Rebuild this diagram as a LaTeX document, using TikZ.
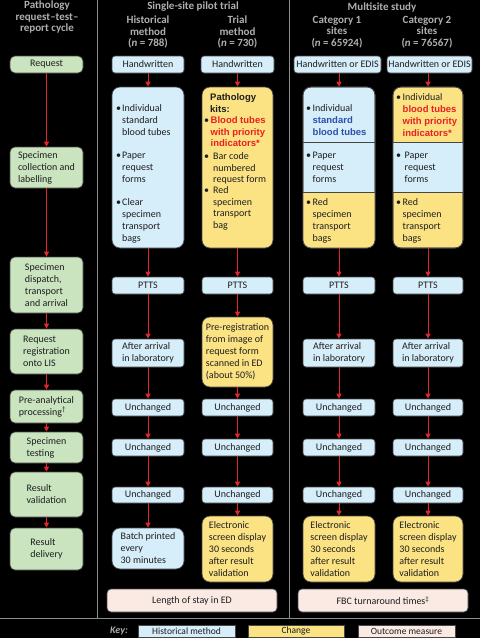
\documentclass[tikz,border=0pt]{standalone}
\usepackage{fontspec}
\setmainfont{Carlito}
\newfontfamily\arb{Liberation Sans}
\usetikzlibrary{arrows.meta}
\definecolor{bfill}{RGB}{214,237,250}
\definecolor{gfill}{RGB}{201,228,191}
\definecolor{yfill}{RGB}{251,227,132}
\definecolor{pfill}{RGB}{251,234,228}
\definecolor{bord}{RGB}{70,70,70}
\definecolor{txt}{RGB}{30,30,30}
\definecolor{arrred}{RGB}{227,38,43}
\definecolor{hdrc}{RGB}{175,175,175}
\definecolor{divc}{RGB}{140,140,140}
\definecolor{tblue}{RGB}{45,80,170}
\definecolor{tred}{RGB}{235,30,35}
\newcommand\mybox[7]{\node[#1, minimum width={#5-#3}, minimum height={#6-#4}] (#2) at ({(#3+#5)/2},{(#4+#6)/2}) {#7};}
\newcommand\hb[1]{{\arb\bfseries\fontsize{9.5}{12}\selectfont #1}}
\newcommand\bu[1][6pt]{\makebox[#1][l]{\textbullet}}
\newcommand\bl[1]{\begin{tabular}[t]{@{}l@{}l@{}}#1\end{tabular}}
\newcommand\tl[1]{\begin{tabular}[t]{@{}l@{}}#1\end{tabular}}
\tikzset{
 base/.style={draw=bord, line width=0.7pt, inner sep=0pt, font=\fontsize{10}{12}\selectfont, text=txt, align=left},
 sbox/.style={base, fill=bfill, rounded corners=3pt},
 gbox/.style={base, fill=gfill, rounded corners=5pt},
 ybox/.style={base, fill=yfill, rounded corners=8pt},
 bbig/.style={base, fill=bfill, rounded corners=8pt},
 obox/.style={base, fill=pfill, rounded corners=4pt},
 kbox/.style={base, rounded corners=0pt, font=\fontsize{9.5}{12}\selectfont},
 arr/.style={draw=arrred, line width=0.9pt, -{Triangle[length=5pt,width=5pt]}},
 hdr/.style={text=hdrc, font=\fontsize{11}{11.5}\selectfont\bfseries, align=center, inner sep=0pt},
 tx/.style={inner sep=0pt, anchor=base west, text=txt, font=\fontsize{10}{12}\selectfont},
 txt2/.style={tx, font=\fontsize{10}{11.7}\selectfont},
 divline/.style={draw=divc, line width=0.8pt},
}
\begin{document}
\begin{tikzpicture}[x=1pt,y=-1pt]
\useasboundingbox (0,0) rectangle (480,638);
\fill[black] (0,0) rectangle (480,638);
% dividers
\draw[divline] (97,0) -- (97,618);
\draw[divline] (289,0) -- (289,618);
\draw[divline] (0,618) -- (480,618);
% headers
\node[hdr] (h0) at (47,17.5) {Pathology\\request--test--\\report cycle};
\node[hdr] (h1) at (193,7) {Single-site pilot trial};
\node[hdr] (h2) at (148,32) {Historical\\method\\(\textit{n} = 788)};
\node[hdr] (h3) at (237.5,32) {Trial\\method\\(\textit{n} = 730)};
\node[hdr] (h4) at (382,7) {Multisite study};
\node[hdr] (h5) at (337,32) {Category 1\\sites\\(\textit{n} = 65924)};
\node[hdr] (h6) at (427,32) {Category 2\\sites\\(\textit{n} = 76567)};
% left column
\mybox{gbox}{req}{10}{56}{83}{73}{Request}
\mybox{gbox}{coll}{10}{147}{83}{188}{Specimen\\collection and\\labelling}
\mybox{gbox}{disp}{10}{257}{83}{313}{Specimen\\dispatch,\\transport\\and arrival}
\mybox{gbox}{reg}{10}{329}{83}{374}{Request\\registration\\onto LIS}
\mybox{gbox}{pre}{10}{390}{83}{423}{Pre-analytical\\processing\textsuperscript{\dag}}
\mybox{gbox}{test}{10}{432}{83}{463}{Specimen\\testing}
\mybox{gbox}{val}{10}{472}{83}{517}{Result\\validation}
\mybox{gbox}{del}{10}{528}{83}{570}{Result\\delivery}
% historical column
\mybox{sbox}{hw1}{112}{56}{184}{73}{Handwritten}
\mybox{bbig}{big1}{112}{87}{184}{248}{}
\node[tx] (t1a) at (116,111.3) {\bl{\bu & Individual\\ & standard\\ & blood tubes}};
\node[tx] (t1b) at (116,158.3) {\bl{\bu & Paper\\ & request\\ & forms}};
\node[tx] (t1c) at (116,205.3) {\bl{\bu & Clear\\ & specimen\\ & transport\\ & bags}};
\mybox{sbox}{ptts1}{112}{277}{184}{294}{PTTS}
\mybox{sbox}{arr1}{112}{339}{184}{367}{After arrival\\in laboratory}
\mybox{sbox}{un1a}{112}{399}{184}{416}{Unchanged}
\mybox{sbox}{un1b}{112}{439}{184}{456}{Unchanged}
\mybox{sbox}{un1c}{112}{487}{184}{503}{Unchanged}
\mybox{bbig}{batch}{112}{528}{184}{569}{Batch printed\\every\\30 minutes}
\mybox{obox}{los}{107}{589}{277}{612}{Length of stay in ED}
% trial column
\mybox{sbox}{hw2}{201}{56}{274}{73}{Handwritten}
\mybox{ybox}{big2}{202}{87}{273}{248}{}
\node[txt2] (t2h) at (210,100.3) {\tl{\hb{Pathology}\\ \hb{kits:}}};
\node[txt2] (t2a) at (204,123.3) {\bl{\bu[6.5pt] & \hb{\color{tred}Blood tubes}\\ & \hb{\color{tred}with priority}\\ & \hb{\color{tred}indicators*}}};
\node[txt2] (t2b) at (204,159.3) {\bl{\bu[9pt] & Bar code\\ & numbered\\ & request form}};
\node[txt2] (t2c) at (204,193.3) {\bl{\bu[9pt] & Red\\ & specimen\\ & transport\\ & bag}};
\mybox{sbox}{ptts2}{202}{277}{273}{294}{PTTS}
\mybox{ybox}{prereg}{202}{317}{273}{387}{\fontsize{10}{11.8}\selectfont Pre-registration\\from image of\\request form\\scanned in ED\\(about 50\%)}
\mybox{sbox}{un2a}{202}{399}{273}{416}{Unchanged}
\mybox{sbox}{un2b}{202}{439}{273}{456}{Unchanged}
\mybox{sbox}{un2c}{202}{487}{273}{503}{Unchanged}
\mybox{ybox}{elec2}{202}{516}{273}{582}{\fontsize{10}{11.8}\selectfont Electronic\\screen display\\30 seconds\\after result\\validation}
% category 1
\mybox{sbox}{hw3}{294}{56}{381}{73}{Handwritten or EDIS}
\mybox{bbig}{big3}{303}{87}{375}{248}{}
\begin{scope}
\clip[rounded corners=8pt] (303,87) rectangle (375,248);
\fill[yfill] (303,192) rectangle (375,248);
\end{scope}
\draw[bord, line width=0.7pt] (303,142) -- (375,142) (303,192) -- (375,192);
\draw[bord, line width=0.7pt, rounded corners=8pt] (303,87) rectangle (375,248);
\node[tx] (t3a) at (306,111.3) {\bl{\bu[6.5pt] & Individual\\ & \hb{\color{tblue}standard}\\ & \hb{\color{tblue}blood tubes}}};
\node[tx] (t3b) at (306,158.3) {\bl{\bu[6.5pt] & Paper\\ & request\\ & forms}};
\node[tx] (t3c) at (306,205.3) {\bl{\bu[6.5pt] & Red\\ & specimen\\ & transport\\ & bags}};
\mybox{sbox}{ptts3}{303}{277}{375}{294}{PTTS}
\mybox{sbox}{arr3}{303}{339}{375}{367}{After arrival\\in laboratory}
\mybox{sbox}{un3a}{303}{399}{375}{416}{Unchanged}
\mybox{sbox}{un3b}{303}{439}{375}{456}{Unchanged}
\mybox{sbox}{un3c}{303}{487}{375}{503}{Unchanged}
\mybox{ybox}{elec3}{303}{516}{375}{582}{\fontsize{10}{11.8}\selectfont Electronic\\screen display\\30 seconds\\after result\\validation}
\mybox{obox}{fbc}{298}{589}{468}{612}{FBC turnaround times\textsuperscript{\ddag}}
% category 2
\mybox{sbox}{hw4}{387}{56}{472}{73}{Handwritten or EDIS}
\mybox{ybox}{big4}{393}{87}{463}{248}{}
\fill[bfill] (393,142) rectangle (463,192);
\draw[bord, line width=0.7pt] (393,142) -- (463,142) (393,192) -- (463,192);
\draw[bord, line width=0.7pt, rounded corners=8pt] (393,87) rectangle (463,248);
\node[tx] (t4a) at (396,100.3) {\bl{\bu[6.5pt] & Individual\\ & \hb{\color{tred}blood tubes}\\ & \hb{\color{tred}with priority}\\ & \hb{\color{tred}indicators*}}};
\node[tx] (t4b) at (396,158.3) {\bl{\bu[8.5pt] & Paper\\ & request\\ & forms}};
\node[tx] (t4c) at (396,205.3) {\bl{\bu[6.5pt] & Red\\ & specimen\\ & transport\\ & bags}};
\mybox{sbox}{ptts4}{393}{277}{463}{294}{PTTS}
\mybox{sbox}{arr4}{393}{339}{463}{367}{After arrival\\in laboratory}
\mybox{sbox}{un4a}{393}{399}{463}{416}{Unchanged}
\mybox{sbox}{un4b}{393}{439}{463}{456}{Unchanged}
\mybox{sbox}{un4c}{393}{487}{463}{503}{Unchanged}
\mybox{ybox}{elec4}{393}{516}{463}{582}{\fontsize{10}{11.8}\selectfont Electronic\\screen display\\30 seconds\\after result\\validation}
% arrows
\foreach \a/\b in {req/coll,coll/disp,disp/reg,reg/pre,pre/test,test/val,val/del,
  hw1/big1,big1/ptts1,ptts1/arr1,arr1/un1a,un1a/un1b,un1b/un1c,un1c/batch,
  hw2/big2,big2/ptts2,ptts2/prereg,prereg/un2a,un2a/un2b,un2b/un2c,un2c/elec2,
  hw3/big3,big3/ptts3,ptts3/arr3,arr3/un3a,un3a/un3b,un3b/un3c,un3c/elec3,
  hw4/big4,big4/ptts4,ptts4/arr4,arr4/un4a,un4a/un4b,un4b/un4c,un4c/elec4}
  \draw[arr] (\a.south -| \b.north) -- (\b.north);
% key
\node[hdr, font=\fontsize{10}{12}\selectfont\bfseries\itshape] (keyl) at (119,631) {Key:};
\node[kbox, fill=bfill, minimum width=97, minimum height=12] (k1) at (186.5,631) {Historical method};
\node[kbox, fill=yfill, minimum width=96, minimum height=12] (k2) at (296,631) {Change};
\node[kbox, fill=pfill, minimum width=97, minimum height=12] (k3) at (406.5,631) {Outcome measure};
\end{tikzpicture}
\end{document}
